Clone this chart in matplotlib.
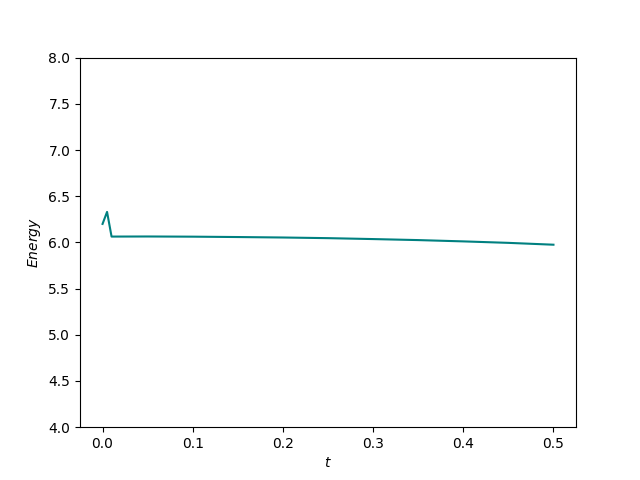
import numpy as np
import matplotlib
matplotlib.use('Agg')
import matplotlib.pyplot as plt

# energy over time
t = [0.0, 0.005, 0.01, 0.05, 0.1, 0.15, 0.2, 0.25, 0.3, 0.35, 0.4, 0.45, 0.5]
energy = [6.20, 6.33, 6.063, 6.064, 6.062, 6.058, 6.053, 6.046, 6.036, 6.025, 6.011, 5.995, 5.975]

fig, ax = plt.subplots(figsize=(6.4, 4.8), dpi=100)
ax.plot(t, energy, color='teal')
ax.set_ylim(4, 8)
ax.set_xlabel('$t$')
ax.set_ylabel('$Energy$')
fig.savefig('out.png')
